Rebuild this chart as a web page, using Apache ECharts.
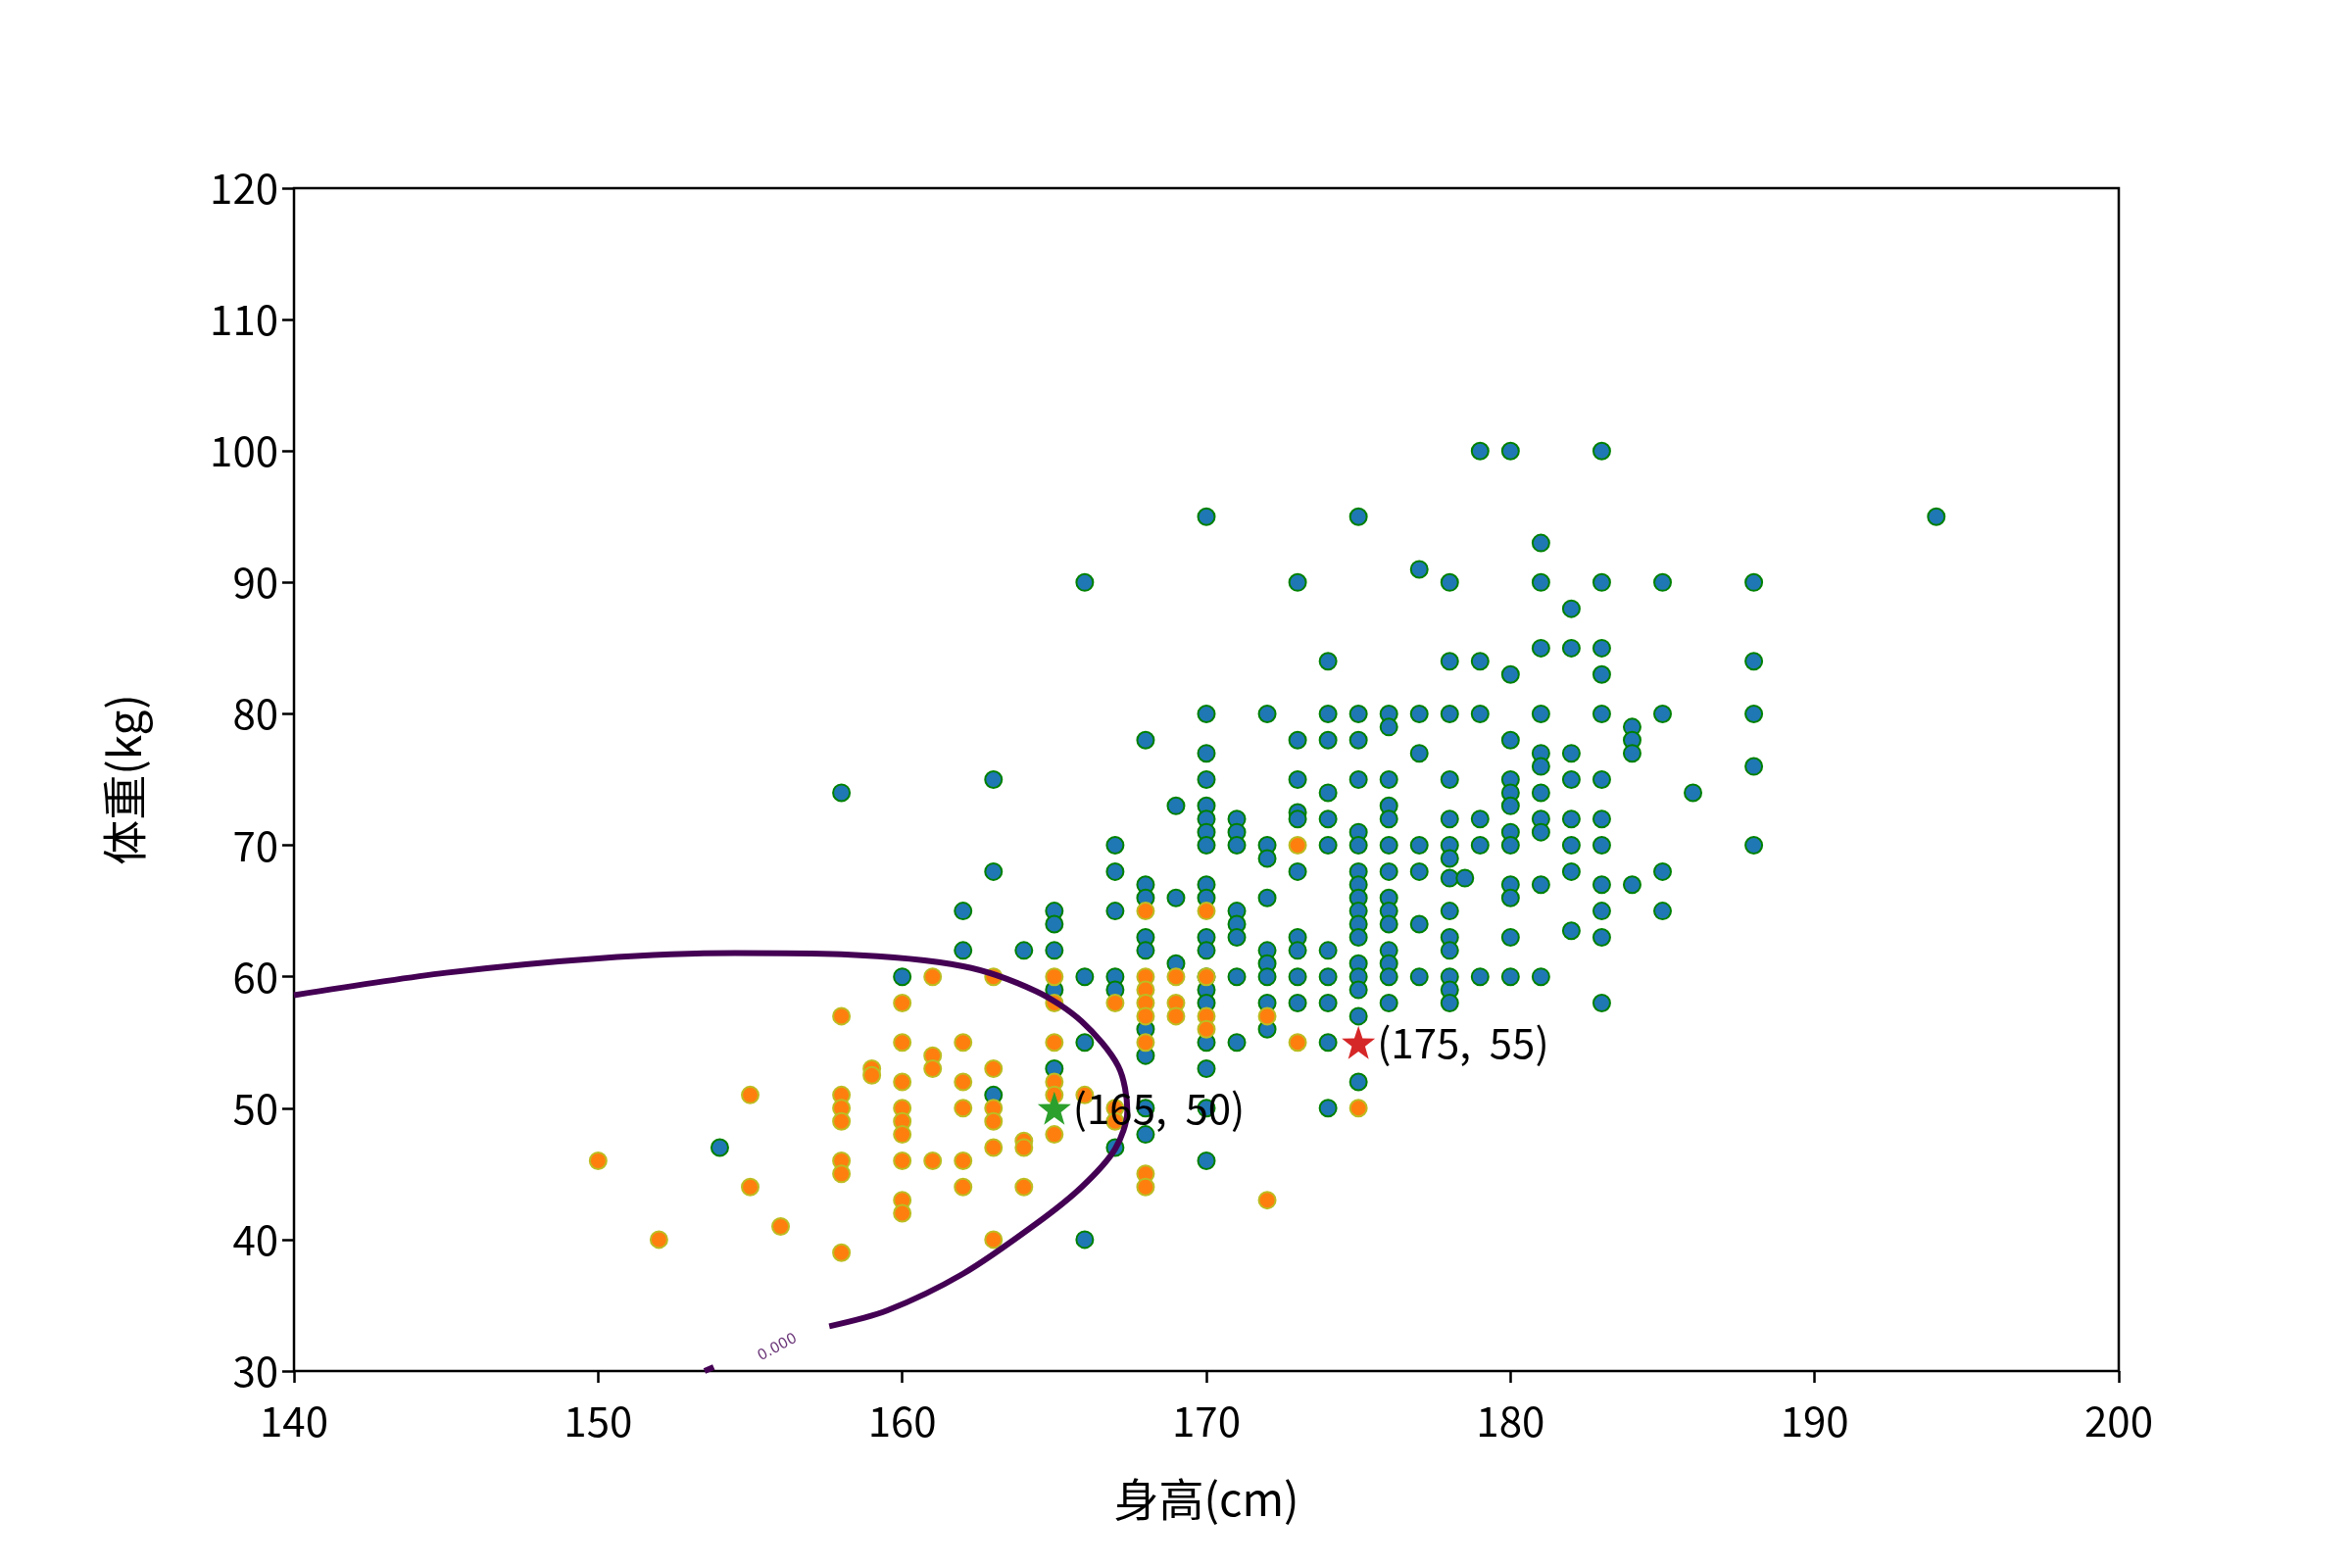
<!DOCTYPE html>
<html>
<head>
<meta charset="utf-8">
<title>身高体重</title>
<script src="https://cdn.jsdelivr.net/npm/echarts@6/dist/echarts.min.js"></script>
</head>
<body style="margin:0;background:#fff">
<div id="main" style="width:2400px;height:1600px;"></div>
<script type="text/javascript">
// 男生 (身高, 体重)
var male = [
  [158,74],[154,47],[163,75],[163,68],[162,65],[162,62],[164,62],[160,60],[163,51],
  [166,90],[166,60],[166,55],[166,40],[165,65],[165,64],[165,62],[165,59],[165,53],
  [167,70],[167,68],[167,65],[167,60],[167,59],[167,47],
  [168,78],[168,67],[168,66],[168,63],[168,62],[168,56],[168,54],[168,50],[168,48],
  [169,73],[169,66],[169,61],
  [170,95],[170,80],[170,77],[170,75],[170,73],[170,72],[170,71],[170,70],[170,67],[170,66],
  [170,63],[170,62],[170,60],[170,59],[170,58],[170,55],[170,53],[170,50],[170,46],
  [171,72],[171,71],[171,70],[171,65],[171,64],[171,63],[171,60],[171,55],
  [172,80],[172,70],[172,69],[172,66],[172,62],[172,61],[172,60],[172,58],[172,56],
  [173,90],[173,78],[173,75],[173,72.5],[173,72],[173,68],[173,63],[173,62],[173,60],[173,58],
  [174,84],[174,80],[174,78],[174,74],[174,72],[174,70],[174,62],[174,60],[174,58],[174,55],[174,50],
  [175,95],[175,80],[175,78],[175,75],[175,71],[175,70],[175,68],[175,67],[175,66],[175,65],
  [175,64],[175,63],[175,61],[175,60],[175,59],[175,57],[175,52],
  [176,80],[176,79],[176,75],[176,73],[176,72],[176,70],[176,68],[176,66],[176,65],[176,64],
  [176,62],[176,61],[176,60],[176,58],
  [177,91],[177,80],[177,77],[177,70],[177,68],[177,64],[177,60],
  [178,90],[178,84],[178,80],[178,75],[178,72],[178,70],[178,69],[178,67.5],[178,65],[178,63],
  [178,62],[178,60],[178,59],[178,58],[178.5,67.5],
  [179,100],[179,84],[179,80],[179,72],[179,70],[179,60],
  [180,100],[180,83],[180,78],[180,75],[180,74],[180,73],[180,71],[180,70],[180,67],[180,66],[180,63],[180,60],
  [181,93],[181,90],[181,85],[181,80],[181,77],[181,76],[181,74],[181,72],[181,71],[181,67],[181,60],
  [182,88],[182,85],[182,77],[182,75],[182,72],[182,70],[182,68],[182,63.5],
  [183,100],[183,90],[183,85],[183,83],[183,80],[183,75],[183,72],[183,70],[183,67],[183,65],[183,63],[183,58],
  [184,79],[184,78],[184,77],[184,67],
  [185,90],[185,80],[185,68],[185,65],[186,74],
  [188,90],[188,84],[188,80],[188,76],[188,70],[194,95]
];
// 女生 (身高, 体重)
var female = [
  [150,46],[152,40],[155,51],[155,44],[156,41],
  [158,57],[158,51],[158,50],[158,49],[158,46],[158,45],[158,39],[159,53],[159,52.5],
  [160,58],[160,55],[160,52],[160,50],[160,49],[160,48],[160,46],[160,43],[160,42],
  [161,60],[161,54],[161,53],[161,46],[162,55],[162,52],[162,50],[162,46],[162,44],
  [163,60],[163,53],[163,50],[163,49],[163,47],[163,40],[164,47.5],[164,47],[164,44],
  [165,60],[165,58],[165,55],[165,52],[165,51],[165,48],[166,51],[167,58],[167,50],[167,49],
  [168,65],[168,60],[168,59],[168,58],[168,57],[168,55],[168,45],[168,44],
  [169,60],[169,58],[169,57],[170,65],[170,60],[170,57],[170,56],
  [172,57],[172,43],[173,70],[173,55],[175,50]
];
// 判别边界 0.000 等值线
var contourA = [
  [140,58.6],[145,60.3],[150,61.4],[154.5,61.8],[158,61.7],[162,60.8],[164.4,58.9],
  [165.9,56.6],[167.1,53.2],[167.4,49.8],[167,46.9],[165.9,44],[164.4,41.2],
  [162,37.4],[159.5,34.6],[157.6,33.4]
];
var contourB = [[153.8,30.3],[153.5,30]];
var contourLabel = [[155.9,31.8]];
var testA = [[165,50]];
var testB = [[175,55]];

var myChart = echarts.init(document.getElementById('main'));
var font = '"Noto Sans CJK SC", "DejaVu Sans", sans-serif';

function dots(data, fill, edge) {
  return {
    type: 'scatter', data: data, symbolSize: 17, silent: true,
    itemStyle: {color: fill, borderColor: edge, borderWidth: 2, opacity: 1}
  };
}
function curve(data) {
  return {
    type: 'line', data: data, showSymbol: false, smooth: 0.3, silent: true,
    lineStyle: {color: '#440154', width: 6}
  };
}
function star(data, color) {
  return {
    type: 'scatter', data: data, symbol: 'path://M0,-10L2.35,-3.24L9.51,-3.09L3.8,1.24L5.88,8.09L0,4L-5.88,8.09L-3.8,1.24L-9.51,-3.09L-2.35,-3.24Z',
    symbolSize: 34, silent: true, z: 5,
    itemStyle: {color: color, opacity: 1},
    label: {
      show: true, position: 'right', distance: 2, fontFamily: font, fontSize: 42, color: '#000',
      formatter: function (p) { return '(' + p.value[0] + ',  ' + p.value[1] + ')'; }
    }
  };
}

var option = {
  animation: false,
  backgroundColor: '#fff',
  grid: {left: 300, right: 238, top: 192, bottom: 201, show: true, borderColor: '#000', borderWidth: 2.5},
  xAxis: {
    type: 'value', min: 140, max: 200, interval: 10,
    name: '身高(cm)', nameLocation: 'middle', nameGap: 108,
    nameTextStyle: {fontFamily: font, fontSize: 46, color: '#000'},
    axisLine: {show: false},
    axisTick: {show: true, inside: false, length: 12, lineStyle: {color: '#000', width: 2.5}},
    axisLabel: {fontFamily: font, fontSize: 42, color: '#000', margin: 30},
    splitLine: {show: false}
  },
  yAxis: {
    type: 'value', min: 30, max: 120, interval: 10,
    name: '体重(kg)', nameLocation: 'middle', nameGap: 150,
    nameTextStyle: {fontFamily: font, fontSize: 46, color: '#000'},
    axisLine: {show: false},
    axisTick: {show: true, inside: false, length: 12, lineStyle: {color: '#000', width: 2.5}},
    axisLabel: {fontFamily: font, fontSize: 42, color: '#000', margin: 16},
    splitLine: {show: false}
  },
  series: [
    dots(male, '#1f77b4', '#008000'),
    dots(female, '#ff7f0e', '#bcbd22'),
    curve(contourA),
    curve(contourB),
    {
      type: 'scatter', data: contourLabel, symbolSize: 0, silent: true,
      label: {show: true, position: 'inside', rotate: 28, fontFamily: 'DejaVu Sans', fontSize: 15,
              color: '#440154', formatter: '0.000'}
    },
    star(testA, '#2ca02c'),
    star(testB, '#d62728')
  ]
};
myChart.setOption(option);
</script>
</body>
</html>
